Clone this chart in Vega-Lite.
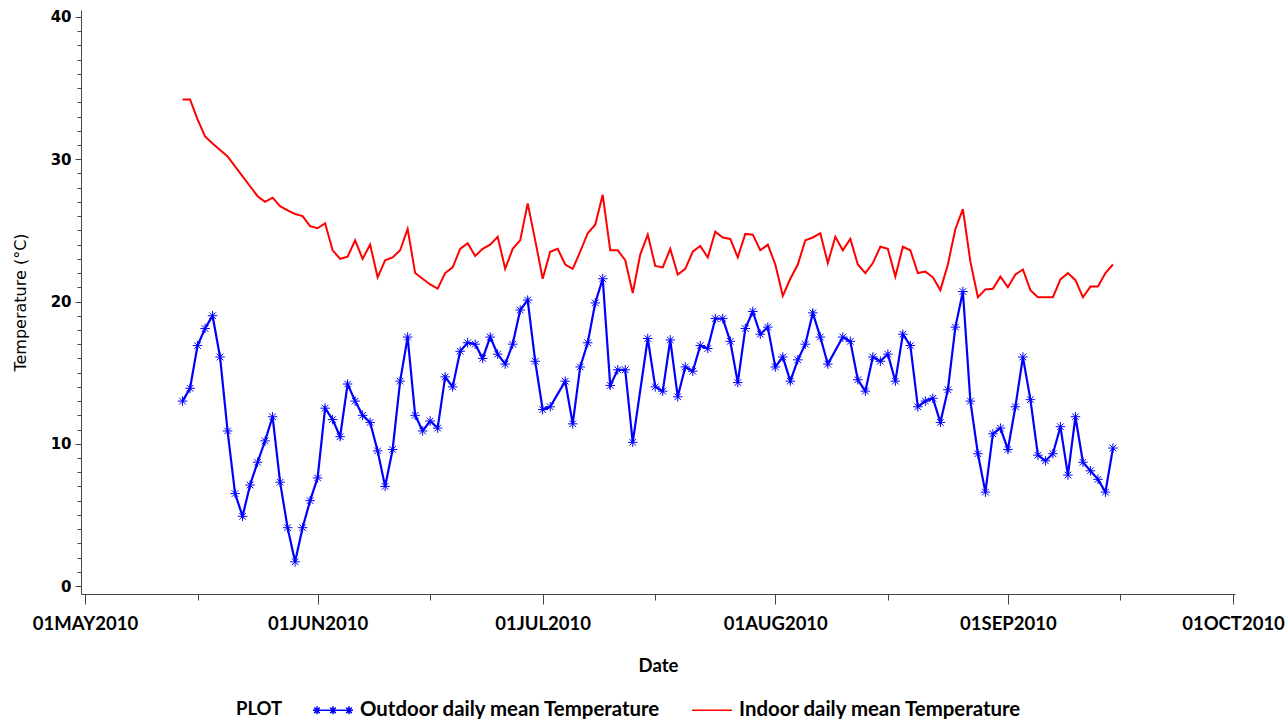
{
  "$schema": "https://vega.github.io/schema/vega-lite/v6.json",
  "width": 1154,
  "height": 584,
  "autosize": {"type": "none"},
  "padding": {"left": 81, "top": 10, "right": 52, "bottom": 125},
  "background": "white",
  "config": {"view": {"stroke": null}},
  "datasets": {
    "outdoor": [
      {"date": "2010-05-14", "value": 13.0}, {"date": "2010-05-15", "value": 13.9}, {"date": "2010-05-16", "value": 16.9},
      {"date": "2010-05-17", "value": 18.1}, {"date": "2010-05-18", "value": 19.0}, {"date": "2010-05-19", "value": 16.1},
      {"date": "2010-05-20", "value": 10.9}, {"date": "2010-05-21", "value": 6.5}, {"date": "2010-05-22", "value": 4.9},
      {"date": "2010-05-23", "value": 7.1}, {"date": "2010-05-24", "value": 8.7}, {"date": "2010-05-25", "value": 10.2},
      {"date": "2010-05-26", "value": 11.9}, {"date": "2010-05-27", "value": 7.3}, {"date": "2010-05-28", "value": 4.1},
      {"date": "2010-05-29", "value": 1.7}, {"date": "2010-05-30", "value": 4.1}, {"date": "2010-05-31", "value": 6.0},
      {"date": "2010-06-01", "value": 7.6}, {"date": "2010-06-02", "value": 12.5}, {"date": "2010-06-03", "value": 11.7},
      {"date": "2010-06-04", "value": 10.5}, {"date": "2010-06-05", "value": 14.2}, {"date": "2010-06-06", "value": 13.0},
      {"date": "2010-06-07", "value": 12.0}, {"date": "2010-06-08", "value": 11.5}, {"date": "2010-06-09", "value": 9.5},
      {"date": "2010-06-10", "value": 7.0}, {"date": "2010-06-11", "value": 9.6}, {"date": "2010-06-12", "value": 14.4},
      {"date": "2010-06-13", "value": 17.5}, {"date": "2010-06-14", "value": 12.0}, {"date": "2010-06-15", "value": 10.9},
      {"date": "2010-06-16", "value": 11.6}, {"date": "2010-06-17", "value": 11.1}, {"date": "2010-06-18", "value": 14.7},
      {"date": "2010-06-19", "value": 14.0}, {"date": "2010-06-20", "value": 16.5}, {"date": "2010-06-21", "value": 17.1},
      {"date": "2010-06-22", "value": 17.0}, {"date": "2010-06-23", "value": 16.0}, {"date": "2010-06-24", "value": 17.5},
      {"date": "2010-06-25", "value": 16.3}, {"date": "2010-06-26", "value": 15.6}, {"date": "2010-06-27", "value": 17.0},
      {"date": "2010-06-28", "value": 19.4}, {"date": "2010-06-29", "value": 20.1}, {"date": "2010-06-30", "value": 15.8},
      {"date": "2010-07-01", "value": 12.4}, {"date": "2010-07-02", "value": 12.6}, {"date": "2010-07-04", "value": 14.4},
      {"date": "2010-07-05", "value": 11.4}, {"date": "2010-07-06", "value": 15.4}, {"date": "2010-07-07", "value": 17.1},
      {"date": "2010-07-08", "value": 19.9}, {"date": "2010-07-09", "value": 21.6}, {"date": "2010-07-10", "value": 14.1},
      {"date": "2010-07-11", "value": 15.2}, {"date": "2010-07-12", "value": 15.2}, {"date": "2010-07-13", "value": 10.1},
      {"date": "2010-07-15", "value": 17.4}, {"date": "2010-07-16", "value": 14.0}, {"date": "2010-07-17", "value": 13.7},
      {"date": "2010-07-18", "value": 17.3}, {"date": "2010-07-19", "value": 13.3}, {"date": "2010-07-20", "value": 15.4},
      {"date": "2010-07-21", "value": 15.1}, {"date": "2010-07-22", "value": 16.9}, {"date": "2010-07-23", "value": 16.7},
      {"date": "2010-07-24", "value": 18.8}, {"date": "2010-07-25", "value": 18.8}, {"date": "2010-07-26", "value": 17.2},
      {"date": "2010-07-27", "value": 14.3}, {"date": "2010-07-28", "value": 18.1}, {"date": "2010-07-29", "value": 19.3},
      {"date": "2010-07-30", "value": 17.7}, {"date": "2010-07-31", "value": 18.2}, {"date": "2010-08-01", "value": 15.4},
      {"date": "2010-08-02", "value": 16.1}, {"date": "2010-08-03", "value": 14.4}, {"date": "2010-08-04", "value": 15.9},
      {"date": "2010-08-05", "value": 17.0}, {"date": "2010-08-06", "value": 19.2}, {"date": "2010-08-07", "value": 17.5},
      {"date": "2010-08-08", "value": 15.6}, {"date": "2010-08-10", "value": 17.5}, {"date": "2010-08-11", "value": 17.2},
      {"date": "2010-08-12", "value": 14.5}, {"date": "2010-08-13", "value": 13.7}, {"date": "2010-08-14", "value": 16.1},
      {"date": "2010-08-15", "value": 15.8}, {"date": "2010-08-16", "value": 16.3}, {"date": "2010-08-17", "value": 14.4},
      {"date": "2010-08-18", "value": 17.7}, {"date": "2010-08-19", "value": 16.9}, {"date": "2010-08-20", "value": 12.6},
      {"date": "2010-08-21", "value": 13.0}, {"date": "2010-08-22", "value": 13.2}, {"date": "2010-08-23", "value": 11.5},
      {"date": "2010-08-24", "value": 13.8}, {"date": "2010-08-25", "value": 18.2}, {"date": "2010-08-26", "value": 20.7},
      {"date": "2010-08-27", "value": 13.0}, {"date": "2010-08-28", "value": 9.3}, {"date": "2010-08-29", "value": 6.6},
      {"date": "2010-08-30", "value": 10.7}, {"date": "2010-08-31", "value": 11.1}, {"date": "2010-09-01", "value": 9.6},
      {"date": "2010-09-02", "value": 12.6}, {"date": "2010-09-03", "value": 16.1}, {"date": "2010-09-04", "value": 13.1},
      {"date": "2010-09-05", "value": 9.2}, {"date": "2010-09-06", "value": 8.8}, {"date": "2010-09-07", "value": 9.3},
      {"date": "2010-09-08", "value": 11.2}, {"date": "2010-09-09", "value": 7.8}, {"date": "2010-09-10", "value": 11.9},
      {"date": "2010-09-11", "value": 8.7}, {"date": "2010-09-12", "value": 8.1}, {"date": "2010-09-13", "value": 7.5},
      {"date": "2010-09-14", "value": 6.6}, {"date": "2010-09-15", "value": 9.7}
    ],
    "indoor": [
      {"date": "2010-05-14", "value": 34.2}, {"date": "2010-05-15", "value": 34.2}, {"date": "2010-05-16", "value": 32.8},
      {"date": "2010-05-17", "value": 31.6}, {"date": "2010-05-18", "value": 31.1}, {"date": "2010-05-19", "value": 30.65},
      {"date": "2010-05-20", "value": 30.2}, {"date": "2010-05-21", "value": 29.5}, {"date": "2010-05-22", "value": 28.8},
      {"date": "2010-05-23", "value": 28.1}, {"date": "2010-05-24", "value": 27.4}, {"date": "2010-05-25", "value": 27.0},
      {"date": "2010-05-26", "value": 27.3}, {"date": "2010-05-27", "value": 26.7}, {"date": "2010-05-28", "value": 26.4},
      {"date": "2010-05-29", "value": 26.15}, {"date": "2010-05-30", "value": 26.0}, {"date": "2010-05-31", "value": 25.3},
      {"date": "2010-06-01", "value": 25.15}, {"date": "2010-06-02", "value": 25.5}, {"date": "2010-06-03", "value": 23.6},
      {"date": "2010-06-04", "value": 23.0}, {"date": "2010-06-05", "value": 23.15}, {"date": "2010-06-06", "value": 24.3},
      {"date": "2010-06-07", "value": 23.0}, {"date": "2010-06-08", "value": 24.0}, {"date": "2010-06-09", "value": 21.7},
      {"date": "2010-06-10", "value": 22.9}, {"date": "2010-06-11", "value": 23.1}, {"date": "2010-06-12", "value": 23.6},
      {"date": "2010-06-13", "value": 25.1}, {"date": "2010-06-14", "value": 22.0}, {"date": "2010-06-15", "value": 21.6},
      {"date": "2010-06-16", "value": 21.2}, {"date": "2010-06-17", "value": 20.9}, {"date": "2010-06-18", "value": 22.0},
      {"date": "2010-06-19", "value": 22.4}, {"date": "2010-06-20", "value": 23.7}, {"date": "2010-06-21", "value": 24.1},
      {"date": "2010-06-22", "value": 23.2}, {"date": "2010-06-23", "value": 23.7}, {"date": "2010-06-24", "value": 24.0},
      {"date": "2010-06-25", "value": 24.55}, {"date": "2010-06-26", "value": 22.3}, {"date": "2010-06-27", "value": 23.7},
      {"date": "2010-06-28", "value": 24.3}, {"date": "2010-06-29", "value": 26.9}, {"date": "2010-06-30", "value": 24.3},
      {"date": "2010-07-01", "value": 21.6}, {"date": "2010-07-02", "value": 23.5}, {"date": "2010-07-03", "value": 23.7},
      {"date": "2010-07-04", "value": 22.6}, {"date": "2010-07-05", "value": 22.3}, {"date": "2010-07-06", "value": 23.5},
      {"date": "2010-07-07", "value": 24.8}, {"date": "2010-07-08", "value": 25.4}, {"date": "2010-07-09", "value": 27.5},
      {"date": "2010-07-10", "value": 23.6}, {"date": "2010-07-11", "value": 23.6}, {"date": "2010-07-12", "value": 22.9},
      {"date": "2010-07-13", "value": 20.6}, {"date": "2010-07-14", "value": 23.3}, {"date": "2010-07-15", "value": 24.7},
      {"date": "2010-07-16", "value": 22.5}, {"date": "2010-07-17", "value": 22.4}, {"date": "2010-07-18", "value": 23.7},
      {"date": "2010-07-19", "value": 21.9}, {"date": "2010-07-20", "value": 22.3}, {"date": "2010-07-21", "value": 23.5},
      {"date": "2010-07-22", "value": 23.9}, {"date": "2010-07-23", "value": 23.1}, {"date": "2010-07-24", "value": 24.9},
      {"date": "2010-07-25", "value": 24.5}, {"date": "2010-07-26", "value": 24.4}, {"date": "2010-07-27", "value": 23.1},
      {"date": "2010-07-28", "value": 24.75}, {"date": "2010-07-29", "value": 24.7}, {"date": "2010-07-30", "value": 23.6},
      {"date": "2010-07-31", "value": 24.0}, {"date": "2010-08-01", "value": 22.6}, {"date": "2010-08-02", "value": 20.4},
      {"date": "2010-08-03", "value": 21.6}, {"date": "2010-08-04", "value": 22.6}, {"date": "2010-08-05", "value": 24.3},
      {"date": "2010-08-06", "value": 24.5}, {"date": "2010-08-07", "value": 24.8}, {"date": "2010-08-08", "value": 22.7},
      {"date": "2010-08-09", "value": 24.55}, {"date": "2010-08-10", "value": 23.6}, {"date": "2010-08-11", "value": 24.4},
      {"date": "2010-08-12", "value": 22.6}, {"date": "2010-08-13", "value": 22.0}, {"date": "2010-08-14", "value": 22.7},
      {"date": "2010-08-15", "value": 23.85}, {"date": "2010-08-16", "value": 23.7}, {"date": "2010-08-17", "value": 21.75},
      {"date": "2010-08-18", "value": 23.85}, {"date": "2010-08-19", "value": 23.6}, {"date": "2010-08-20", "value": 22.0},
      {"date": "2010-08-21", "value": 22.1}, {"date": "2010-08-22", "value": 21.7}, {"date": "2010-08-23", "value": 20.8},
      {"date": "2010-08-24", "value": 22.6}, {"date": "2010-08-25", "value": 25.1}, {"date": "2010-08-26", "value": 26.5},
      {"date": "2010-08-27", "value": 22.8}, {"date": "2010-08-28", "value": 20.3}, {"date": "2010-08-29", "value": 20.85},
      {"date": "2010-08-30", "value": 20.9}, {"date": "2010-08-31", "value": 21.75}, {"date": "2010-09-01", "value": 21.0},
      {"date": "2010-09-02", "value": 21.9}, {"date": "2010-09-03", "value": 22.25}, {"date": "2010-09-04", "value": 20.8},
      {"date": "2010-09-05", "value": 20.3}, {"date": "2010-09-06", "value": 20.3}, {"date": "2010-09-07", "value": 20.3},
      {"date": "2010-09-08", "value": 21.55}, {"date": "2010-09-09", "value": 22.0}, {"date": "2010-09-10", "value": 21.5},
      {"date": "2010-09-11", "value": 20.3}, {"date": "2010-09-12", "value": 21.05}, {"date": "2010-09-13", "value": 21.05},
      {"date": "2010-09-14", "value": 22.0}, {"date": "2010-09-15", "value": 22.6}
    ]
  },
  "encoding": {
    "x": {
      "field": "date",
      "type": "temporal",
      "scale": {"domain": [{"year": 2010, "month": 4, "date": 30, "hours": 11, "minutes": 12}, {"year": 2010, "month": 10, "date": 1, "hours": 6, "minutes": 24}]},
      "axis": {
        "title": "Date",
        "values": [
          {"year": 2010, "month": 5, "date": 1}, {"year": 2010, "month": 5, "date": 16},
          {"year": 2010, "month": 6, "date": 1}, {"year": 2010, "month": 6, "date": 16},
          {"year": 2010, "month": 7, "date": 1}, {"year": 2010, "month": 7, "date": 16},
          {"year": 2010, "month": 8, "date": 1}, {"year": 2010, "month": 8, "date": 16},
          {"year": 2010, "month": 9, "date": 1}, {"year": 2010, "month": 9, "date": 16},
          {"year": 2010, "month": 10, "date": 1}
        ],
        "labelExpr": "date(datum.value) == 1 ? upper(timeFormat(datum.value, '%d%b%Y')) : ''",
        "tickSize": {"condition": {"test": "date(datum.value) == 1", "value": 10}, "value": 6},
        "grid": false,
        "labelOverlap": false,
        "labelFlush": false,
        "labelFont": "Lato",
        "labelFontSize": 18.5,
        "labelFontWeight": "bold",
        "labelColor": "black",
        "labelPadding": 10,
        "titleFont": "Lato",
        "titleFontSize": 18.5,
        "titleFontWeight": "bold",
        "titleColor": "black",
        "titlePadding": 24,
        "domainColor": "#444444",
        "tickColor": "#444444"
      }
    },
    "y": {
      "field": "value",
      "type": "quantitative",
      "scale": {"domain": [-0.56, 40.49], "nice": false, "zero": false},
      "axis": {
        "title": "Temperature (°C)",
        "values": [0,1,2,3,4,5,6,7,8,9,10,11,12,13,14,15,16,17,18,19,20,21,22,23,24,25,26,27,28,29,30,31,32,33,34,35,36,37,38,39,40],
        "labelExpr": "datum.value % 10 == 0 ? datum.label : ''",
        "tickSize": {"condition": {"test": "datum.value % 10 == 0", "value": 6}, "value": 4},
        "format": "d",
        "grid": false,
        "labelOverlap": false,
        "labelFont": "DejaVu Sans",
        "labelFontSize": 15,
        "labelFontWeight": "bold",
        "labelColor": "black",
        "labelPadding": 4,
        "titleFont": "DejaVu Sans",
        "titleFontSize": 16,
        "titleFontWeight": "normal",
        "titleColor": "black",
        "titlePadding": 22,
        "domainColor": "#444444",
        "tickColor": "#444444"
      }
    }
  },
  "layer": [
    {
      "data": {"name": "outdoor", "format": {"parse": {"date": "date:'%Y-%m-%d'"}}},
      "layer": [
        {
          "mark": {"type": "line", "strokeWidth": 2.2},
          "encoding": {
            "color": {
              "datum": "Outdoor daily mean Temperature",
              "type": "nominal",
              "scale": {"domain": ["Outdoor daily mean Temperature", "Indoor daily mean Temperature"], "range": ["#0000ff", "#ff0000"]},
              "legend": {
                "orient": "none",
                "legendX": 155,
                "legendY": 679,
                "direction": "horizontal",
                "title": "PLOT",
                "titleOrient": "left",
                "titleAnchor": "middle",
                "titleBaseline": "middle",
                "titleFont": "Lato",
                "titleFontSize": 18.5,
                "titleFontWeight": "bold",
                "titleColor": "black",
                "titlePadding": 29,
                "labelFont": "Lato",
                "labelFontSize": 20.4,
                "labelFontWeight": "bold",
                "labelColor": "black",
                "labelOffset": 6,
                "labelLimit": 500,
                "symbolSize": 1600,
                "symbolStrokeWidth": 1.5,
                "columnPadding": 28,
                "encode": {
                  "title": {"update": {"dy": {"value": 4}}},
                  "symbols": {
                    "update": {
                      "shape": {"signal": "datum.value === 'Outdoor daily mean Temperature' ? 'M-1,0L1,0M-0.8,-0.2L-0.8,0.2M-0.94,-0.14L-0.66,0.14M-0.94,0.14L-0.66,-0.14M0,-0.2L0,0.2M-0.14,-0.14L0.14,0.14M-0.14,0.14L0.14,-0.14M0.8,-0.2L0.8,0.2M0.66,-0.14L0.94,0.14M0.66,0.14L0.94,-0.14' : 'stroke'"},
                      "fill": {"value": "transparent"}
                    }
                  }
                }
              }
            }
          }
        },
        {
          "mark": {"type": "point", "shape": "M-1,0L1,0M0,-1L0,1M-0.7,-0.7L0.7,0.7M-0.7,0.7L0.7,-0.7", "size": 90, "filled": false, "stroke": "#0000ff", "strokeWidth": 1, "opacity": 1}
        }
      ]
    },
    {
      "data": {"name": "indoor", "format": {"parse": {"date": "date:'%Y-%m-%d'"}}},
      "mark": {"type": "line", "strokeWidth": 2},
      "encoding": {
        "color": {"datum": "Indoor daily mean Temperature", "type": "nominal"}
      }
    }
  ]
}
